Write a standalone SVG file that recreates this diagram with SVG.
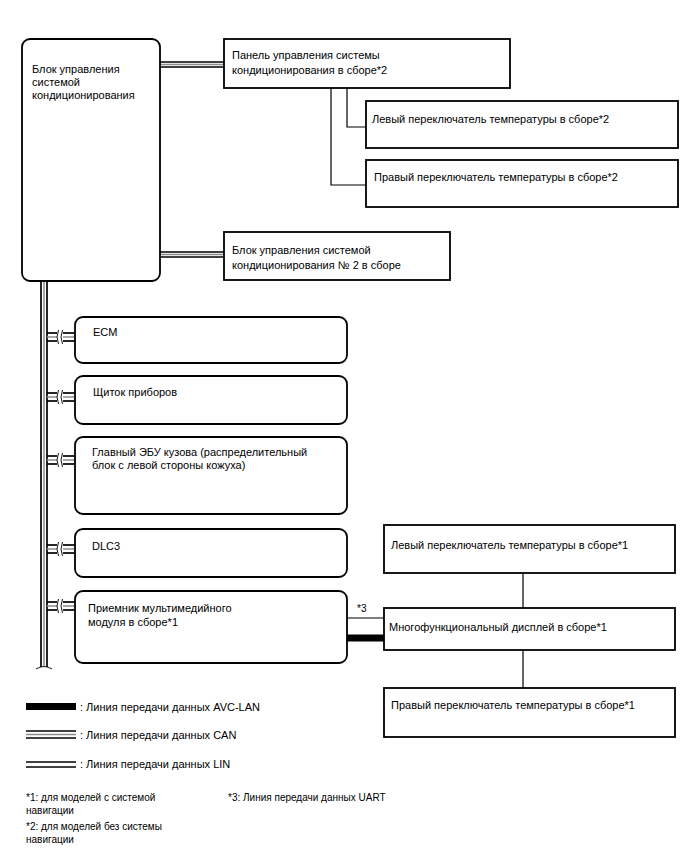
<svg xmlns="http://www.w3.org/2000/svg" width="688" height="852" viewBox="0 0 688 852">
<style>
.box{fill:#fff;stroke:#000;stroke-width:1.8}
.t{font-family:"Liberation Sans",Arial,sans-serif;font-size:11px;fill:#000}
.bk{stroke:#000;stroke-width:1.7;fill:none}
.gr{stroke:#8c8c8c;stroke-width:1.5;fill:none}
.ln{stroke:#000;stroke-width:1.2;fill:none}
.avc{stroke:#000;stroke-width:7;fill:none}
.brk{stroke:#000;stroke-width:0.9;fill:none}
</style>
<rect width="688" height="852" fill="#fff"/>

<g id="connectors">
  <line class="bk" x1="160" y1="62" x2="224" y2="62"/>
  <line class="gr" x1="160" y1="64.5" x2="224" y2="64.5"/>
  <line class="bk" x1="160" y1="67" x2="224" y2="67"/>
  <line class="bk" x1="160" y1="252" x2="224" y2="252"/>
  <line class="gr" x1="160" y1="254.5" x2="224" y2="254.5"/>
  <line class="bk" x1="160" y1="257" x2="224" y2="257"/>
  <polyline class="ln" points="347,88 347,127 366,127"/>
  <polyline class="ln" points="331,88 331,185 366,185"/>
  <line class="bk" x1="41" y1="281" x2="41" y2="667"/>
  <line class="gr" x1="44" y1="281" x2="44" y2="667"/>
  <line class="bk" x1="47" y1="281" x2="47" y2="667"/>
  <path class="brk" d="M36,669 Q44,664 52,669"/>
  <g id="br-ecm">
    <line class="bk" x1="47" y1="333" x2="75" y2="333"/><line class="gr" x1="47" y1="337" x2="75" y2="337"/><line class="bk" x1="47" y1="341" x2="75" y2="341"/>
    <rect x="57" y="330" width="6" height="14" fill="#fff"/>
    <path class="brk" d="M58.5,330 Q55.5,337 58.5,344 M62.5,330 Q59.5,337 62.5,344"/>
  </g>
  <g id="br-shch">
    <line class="bk" x1="47" y1="393" x2="75" y2="393"/><line class="gr" x1="47" y1="397" x2="75" y2="397"/><line class="bk" x1="47" y1="401" x2="75" y2="401"/>
    <rect x="57" y="390" width="6" height="14" fill="#fff"/>
    <path class="brk" d="M58.5,390 Q55.5,397 58.5,404 M62.5,390 Q59.5,397 62.5,404"/>
  </g>
  <g id="br-ebu">
    <line class="bk" x1="47" y1="456" x2="75" y2="456"/><line class="gr" x1="47" y1="460" x2="75" y2="460"/><line class="bk" x1="47" y1="464" x2="75" y2="464"/>
    <rect x="57" y="453" width="6" height="14" fill="#fff"/>
    <path class="brk" d="M58.5,453 Q55.5,460 58.5,467 M62.5,453 Q59.5,460 62.5,467"/>
  </g>
  <g id="br-dlc">
    <line class="bk" x1="47" y1="545" x2="75" y2="545"/><line class="gr" x1="47" y1="549" x2="75" y2="549"/><line class="bk" x1="47" y1="553" x2="75" y2="553"/>
    <rect x="57" y="542" width="6" height="14" fill="#fff"/>
    <path class="brk" d="M58.5,542 Q55.5,549 58.5,556 M62.5,542 Q59.5,549 62.5,556"/>
  </g>
  <g id="br-recv">
    <line class="bk" x1="47" y1="602" x2="75" y2="602"/><line class="gr" x1="47" y1="606" x2="75" y2="606"/><line class="bk" x1="47" y1="610" x2="75" y2="610"/>
    <rect x="57" y="599" width="6" height="14" fill="#fff"/>
    <path class="brk" d="M58.5,599 Q55.5,606 58.5,613 M62.5,599 Q59.5,606 62.5,613"/>
  </g>
  <line class="ln" x1="347" y1="618" x2="384" y2="618"/>
  <text class="t" x="357" y="612" style="font-size:10px">*3</text>
  <line class="avc" x1="347" y1="638" x2="384" y2="638"/>
  <line class="ln" x1="523" y1="573" x2="523" y2="608"/>
  <line class="ln" x1="523" y1="650" x2="523" y2="688"/>
</g>

<g id="n-main">
  <rect class="box" x="22" y="39" width="138" height="242" rx="8"/>
  <text class="t" x="32" y="73">Блок управления</text>
  <text class="t" x="32" y="86">системой</text>
  <text class="t" x="32" y="99">кондиционирования</text>
</g>
<g id="n-panel">
  <rect class="box" x="224" y="39" width="286" height="49"/>
  <text class="t" x="232" y="59">Панель управления системы</text>
  <text class="t" x="232" y="74">кондиционирования в сборе*2</text>
</g>
<g id="n-lsw2">
  <rect class="box" x="366" y="101" width="312" height="47"/>
  <text class="t" x="372" y="123">Левый переключатель температуры в сборе*2</text>
</g>
<g id="n-rsw2">
  <rect class="box" x="366" y="160" width="312" height="47"/>
  <text class="t" x="374" y="181">Правый переключатель температуры в сборе*2</text>
</g>
<g id="n-ac2">
  <rect class="box" x="224" y="232" width="226" height="48"/>
  <text class="t" x="232" y="254">Блок управления системой</text>
  <text class="t" x="232" y="269">кондиционирования № 2 в сборе</text>
</g>
<g id="n-ecm">
  <rect class="box" x="75" y="317" width="272" height="46" rx="8"/>
  <text class="t" x="93" y="336">ECM</text>
</g>
<g id="n-shch">
  <rect class="box" x="75" y="376" width="272" height="48" rx="8"/>
  <text class="t" x="93" y="396">Щиток приборов</text>
</g>
<g id="n-ebu">
  <rect class="box" x="75" y="437" width="272" height="77" rx="8"/>
  <text class="t" x="92" y="456">Главный ЭБУ кузова (распределительный</text>
  <text class="t" x="92" y="469">блок с левой стороны кожуха)</text>
</g>
<g id="n-dlc">
  <rect class="box" x="75" y="529" width="272" height="48" rx="8"/>
  <text class="t" x="92" y="550">DLC3</text>
</g>
<g id="n-recv">
  <rect class="box" x="75" y="591" width="272" height="72" rx="8"/>
  <text class="t" x="88" y="612">Приемник мультимедийного</text>
  <text class="t" x="88" y="626">модуля в сборе*1</text>
</g>
<g id="n-lsw1">
  <rect class="box" x="384" y="525" width="291" height="48"/>
  <text class="t" x="391" y="549">Левый переключатель температуры в сборе*1</text>
</g>
<g id="n-mfd">
  <rect class="box" x="384" y="608" width="291" height="42"/>
  <text class="t" x="389" y="631">Многофункциональный дисплей в сборе*1</text>
</g>
<g id="n-rsw1">
  <rect class="box" x="384" y="688" width="291" height="49"/>
  <text class="t" x="391" y="709">Правый переключатель температуры в сборе*1</text>
</g>

<g id="legend">
  <rect x="26" y="703" width="50" height="7" fill="#000"/>
  <text class="t" x="80" y="711">: Линия передачи данных AVC-LAN</text>
  <line class="bk" x1="26" y1="731" x2="76" y2="731"/>
  <line class="gr" x1="26" y1="734.5" x2="76" y2="734.5"/>
  <line class="bk" x1="26" y1="738" x2="76" y2="738"/>
  <text class="t" x="80" y="739">: Линия передачи данных CAN</text>
  <line class="bk" x1="26" y1="762" x2="76" y2="762"/>
  <line class="bk" x1="26" y1="767" x2="76" y2="767"/>
  <text class="t" x="80" y="768">: Линия передачи данных LIN</text>
  <text class="t" x="26" y="801" style="font-size:10px">*1: для моделей с системой</text>
  <text class="t" x="26" y="814" style="font-size:10px">навигации</text>
  <text class="t" x="26" y="830" style="font-size:10px">*2: для моделей без системы</text>
  <text class="t" x="26" y="843" style="font-size:10px">навигации</text>
  <text class="t" x="228" y="801" style="font-size:10px">*3: Линия передачи данных UART</text>
</g>
</svg>
